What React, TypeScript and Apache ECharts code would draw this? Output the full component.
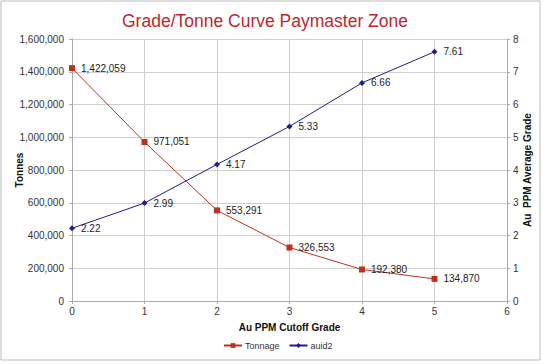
import React, { useEffect, useRef } from "react";
import * as echarts from "echarts";

const cutoff = [0, 1, 2, 3, 4, 5];
const tonnage = [1422059, 971051, 553291, 326553, 192380, 134870];
const auid2 = [2.22, 2.99, 4.17, 5.33, 6.66, 7.61];

const RED = "#c0301e";
const BLUE = "#1e1e8c";
const FONT = "Liberation Sans, Arial, sans-serif";

export default function App() {
  const ref = useRef<HTMLDivElement>(null);
  useEffect(() => {
    const chart = echarts.init(ref.current!, null, { renderer: "svg" });
    chart.setOption({
      animation: false,
      backgroundColor: "#fff",
      textStyle: { fontFamily: FONT },
      title: {
        text: "Grade/Tonne Curve Paymaster Zone",
        left: 117,
        top: 7,
        textStyle: { color: "#c0272d", fontSize: 17.5, fontWeight: "normal", fontFamily: FONT },
      },
      graphic: [
        {
          type: "rect",
          shape: { x: 1, y: 1, width: 539, height: 359 },
          style: { fill: "none", stroke: "#bdbdbd", lineWidth: 1 },
          silent: true,
        },
      ],
      legend: {
        bottom: 9,
        left: 218,
        itemWidth: 18,
        itemHeight: 6,
        itemGap: 9,
        textStyle: { fontSize: 9, color: "#333", fontFamily: FONT, padding: [0, 0, 0, -2] },
        data: ["Tonnage", "auid2"],
      },
      grid: { left: 72, right: 37, top: 39, bottom: 63, containLabel: false, outerBoundsMode: "none" },
      xAxis: {
        type: "value",
        min: 0,
        max: 6,
        interval: 1,
        name: "Au PPM Cutoff Grade",
        nameLocation: "middle",
        nameGap: 21,
        nameMoveOverlap: false,
        nameTextStyle: { fontWeight: "bold", fontSize: 10, color: "#111" },
        axisLine: { lineStyle: { color: "#aaa" } },
        axisTick: { show: true, length: 3, lineStyle: { color: "#aaa" } },
        axisLabel: { fontSize: 10, color: "#333", margin: 5 },
        splitLine: { show: true, lineStyle: { color: "#cfcfcf" } },
      },
      yAxis: [
        {
          type: "value",
          min: 0,
          max: 1600000,
          interval: 200000,
          name: "Tonnes",
          nameLocation: "middle",
          nameGap: 48,
          nameMoveOverlap: false,
          nameTextStyle: { fontWeight: "bold", fontSize: 10, color: "#111" },
          axisLine: { show: true, lineStyle: { color: "#aaa" } },
          axisTick: { show: true, length: 3, lineStyle: { color: "#aaa" } },
          axisLabel: {
            fontSize: 10,
            color: "#333",
            margin: 8,
            formatter: (v: number) => v.toLocaleString("en-US"),
          },
          splitLine: { show: true, lineStyle: { color: "#cfcfcf" } },
        },
        {
          type: "value",
          min: 0,
          max: 8,
          interval: 1,
          position: "right",
          name: "Au  PPM Average Grade",
          nameLocation: "middle",
          nameGap: 15,
          nameRotate: 90,
          nameMoveOverlap: false,
          nameTextStyle: { fontWeight: "bold", fontSize: 10, color: "#111" },
          axisLine: { show: true, lineStyle: { color: "#aaa" } },
          axisTick: { show: true, length: 3, lineStyle: { color: "#aaa" } },
          axisLabel: { fontSize: 10, color: "#333", margin: 6 },
          splitLine: { show: false },
        },
      ],
      series: [
        {
          name: "Tonnage",
          type: "line",
          yAxisIndex: 0,
          data: cutoff.map((x, i) => [x, tonnage[i]]),
          symbol: "rect",
          symbolSize: 6,
          lineStyle: { color: RED, width: 1 },
          itemStyle: { color: RED },
          label: {
            show: true,
            position: "right",
            distance: 6,
            fontSize: 10,
            color: "#222",
            formatter: (p: any) => (p.value[1] as number).toLocaleString("en-US"),
          },
        },
        {
          name: "auid2",
          type: "line",
          yAxisIndex: 1,
          data: cutoff.map((x, i) => [x, auid2[i]]),
          symbol: "diamond",
          symbolSize: 6,
          lineStyle: { color: BLUE, width: 1 },
          itemStyle: { color: BLUE },
          label: {
            show: true,
            position: "right",
            distance: 6,
            fontSize: 10,
            color: "#222",
            formatter: (p: any) => (p.value[1] as number).toFixed(2),
          },
        },
      ],
    });
    return () => chart.dispose();
  }, []);
  return (
    <div
      ref={ref}
      style={{ position: "absolute", left: 0, top: 0, width: 544, height: 364 }}
    />
  );
}
